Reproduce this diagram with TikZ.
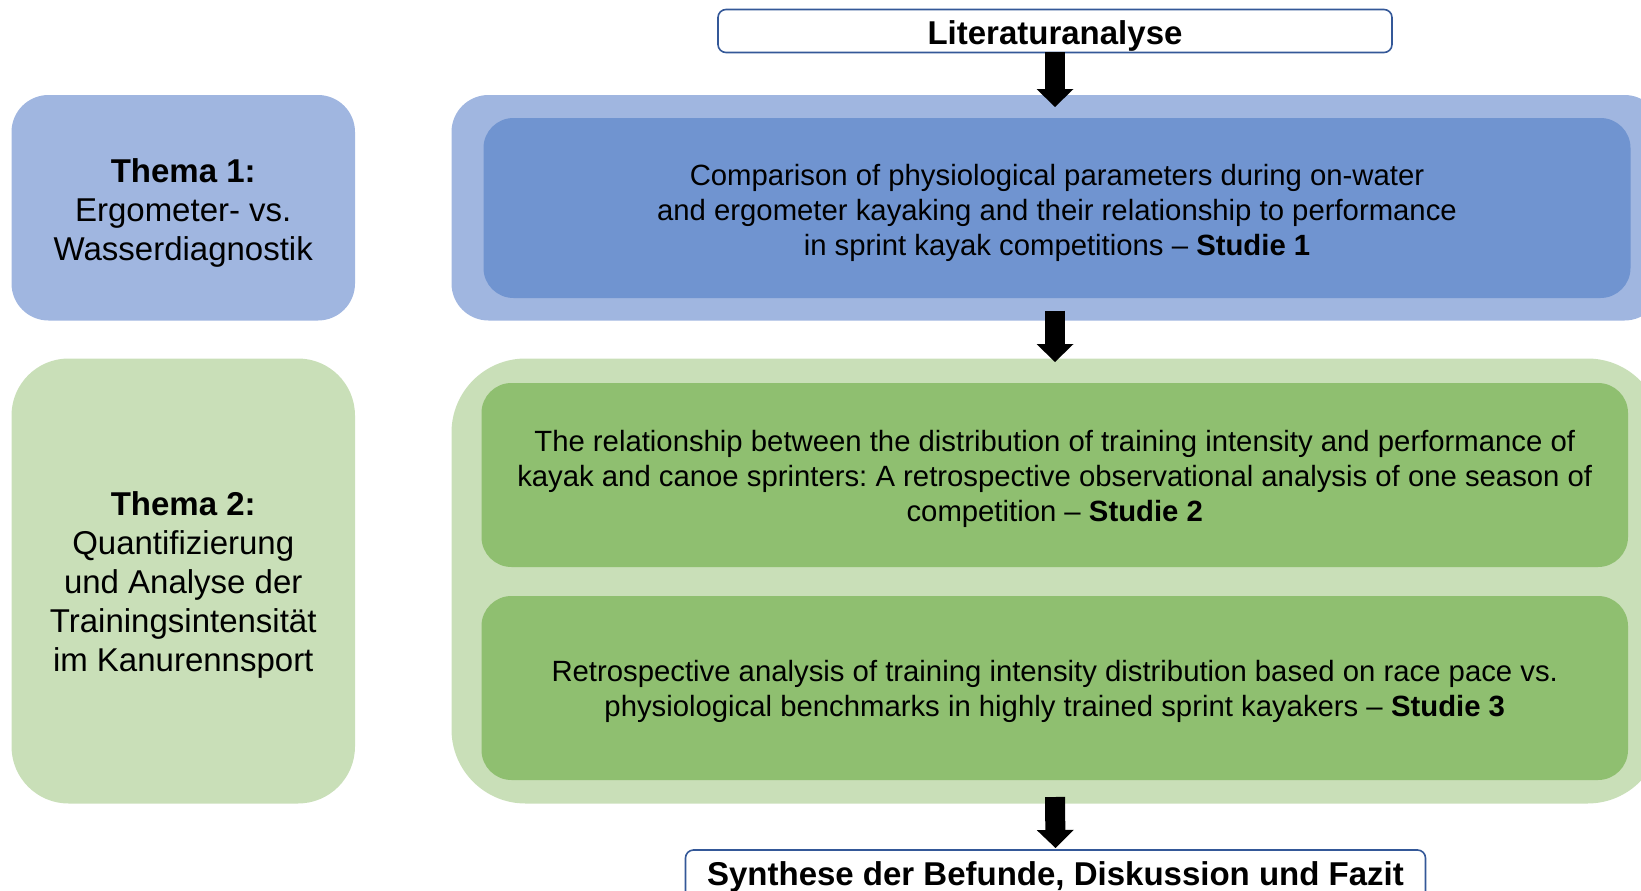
\documentclass[tikz,border=0pt]{standalone}
\usepackage{fontspec}
\setmainfont{Liberation Sans}
\usetikzlibrary{arrows.meta,calc}
\frenchspacing
\definecolor{blueL}{RGB}{160,182,224}
\definecolor{blueD}{RGB}{112,148,208}
\definecolor{greenL}{RGB}{201,223,184}
\definecolor{greenD}{RGB}{143,191,112}
\definecolor{frameblue}{RGB}{52,88,152}
\tikzset{
  box/.style={anchor=north west, inner sep=0pt, outer sep=0pt, draw=none},
  titlebox/.style={box, draw=frameblue, line width=1.6pt, fill=white, rounded corners=8pt},
  titletext/.style={inner sep=0pt, font=\fontsize{33pt}{39pt}\selectfont\bfseries\frenchspacing, text height=23.5pt, text depth=0pt},
  thematext/.style={inner sep=0pt, align=center, font=\fontsize{33pt}{39pt}\selectfont\frenchspacing},
  studytext/.style={inner sep=0pt, align=center, font=\fontsize{29.3pt}{35pt}\selectfont\frenchspacing},
  bigarrow/.style={line width=20pt, draw=black, -{Triangle[width=37pt,length=18pt,line width=0pt]}}
}
\begin{document}
\begin{tikzpicture}[x=1pt,y=-1pt]
\useasboundingbox (0,0) rectangle (1641,891);
\clip (0,0) rectangle (1641,891);
% left theme boxes
\node[box, fill=blueL, rounded corners=37pt, minimum width=343.5pt, minimum height=225.5pt] (t1) at (11.5,95) {};
\node[box, fill=greenL, rounded corners=57pt, minimum width=343.5pt, minimum height=445pt] (t2) at (11.5,358.5) {};
\node[thematext] (t1text) at ($(t1.center)+(0,5)$)
  {\textbf{Thema 1:}\\Ergometer- vs.\\Wasserdiagnostik};
\node[thematext] (t2text) at ($(t2.center)+(0,4)$)
  {\textbf{Thema 2:}\\Quantifizierung\\und Analyse der\\Trainingsintensität\\im Kanurennsport};
% outer groups
\node[box, fill=blueL, rounded corners=37pt, minimum width=1210pt, minimum height=225.5pt] (bo) at (451.5,95) {};
\node[box, fill=greenL, rounded corners=74pt, minimum width=1210pt, minimum height=445pt] (go) at (451.5,358.5) {};
% study boxes
\node[box, fill=blueD, rounded corners=30pt, minimum width=1147pt, minimum height=180pt] (s1) at (483.5,118) {};
\node[box, fill=greenD, rounded corners=30pt, minimum width=1146.5pt, minimum height=184pt] (s2) at (481.5,383) {};
\node[box, fill=greenD, rounded corners=30pt, minimum width=1146.5pt, minimum height=184pt] (s3) at (481.5,596) {};
\node[studytext] (s1text) at ($(s1.center)+(0,5)$)
  {Comparison of physiological parameters during on-water\\and ergometer kayaking and their relationship to performance\\in sprint kayak competitions – \textbf{Studie 1}};
\node[studytext] (s2text) at ($(s2.center)+(0,4.2)$)
  {The relationship between the distribution of training intensity and performance of\\kayak and canoe sprinters: A retrospective observational analysis of one season of\\competition – \textbf{Studie 2}};
\node[studytext] (s3text) at ($(s3.center)+(0,3.8)$)
  {Retrospective analysis of training intensity distribution based on race pace vs.\\physiological benchmarks in highly trained sprint kayakers – \textbf{Studie 3}};
% top and bottom boxes
\node[titlebox, minimum width=674pt, minimum height=43pt] (lit) at (718,9.5) {};
\node[titletext] (littext) at ($(lit.center)+(0,2)$) {Literaturanalyse};
\node[titlebox, minimum width=740pt, minimum height=50pt] (syn) at (685.5,850) {};
\node[titletext] (syntext) at (1055.5,873.3) {Synthese der Befunde, Diskussion und Fazit};
% arrows
\draw[bigarrow] (lit.south) -- ($(lit.south |- bo.north)+(0,12)$);
\draw[bigarrow] ($(lit.south |- bo.south)+(0,-10)$) -- ($(lit.south |- go.north)+(0,3.5)$);
\draw[bigarrow] ($(lit.south |- go.south)+(0,-6.5)$) -- ($(syn.north)+(0,-2)$);
\end{tikzpicture}
\end{document}
